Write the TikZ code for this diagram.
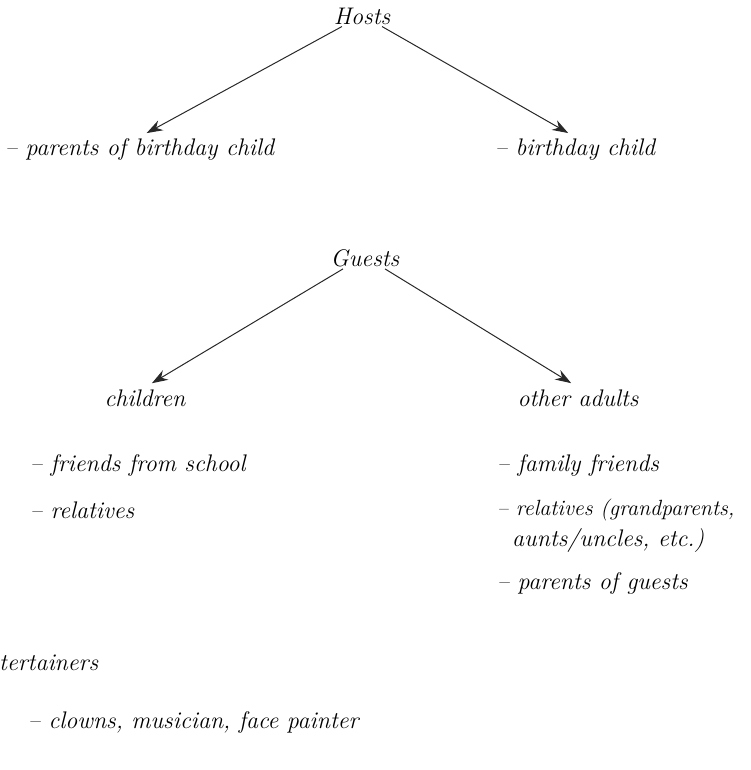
\documentclass[tikz,border=0pt]{standalone}
\usepackage{tikz}
\usetikzlibrary{arrows.meta, positioning}
\definecolor{pengray}{RGB}{40,40,40}

\begin{document}
\begin{tikzpicture}[x=1pt, y=-1pt,
  every node/.style={font=\fontsize{24}{28}\selectfont\itshape, inner sep=2pt},
  item/.style={anchor=west},
  link/.style={draw=pengray, line width=1pt,
               -{Stealth[length=16pt, width=11pt]}, shorten >=8pt}]
  \useasboundingbox (0,0) rectangle (751,770);

  % Top: Hosts
  \node (hosts) at (362,16) {Hosts};
  \node[item] (parents) at (3,150) {-- parents of birthday child};
  \node[item] (bchild) at (493,150) {-- birthday child};
  \draw[link] ([xshift=-20pt]hosts.south) -- (parents.north);
  \draw[link] ([xshift=20pt]hosts.south) -- (bchild.north);

  % Middle: Guests
  \node (guests) at (365,258) {Guests};
  \node (children) at (145,398) {children};
  \node (adults) at (578,398) {other adults};
  \draw[link] ([xshift=-22pt]guests.south) -- (children.north);
  \draw[link] ([xshift=20pt]guests.south) -- (adults.north);

  % Children items
  \node[item] (school) at (28,465) {-- friends from school};
  \node[item] (crel) at (28,510) {-- relatives};

  % Adult items
  \node[item] (family) at (495,465) {-- family friends};
  \node[item, font=\fontsize{22}{26}\selectfont\itshape, inner sep=0pt]
    (arel) at (497,510) {-- relatives (grandparents,};
  \node[item] (aunts) at (510,541) {aunts/uncles, etc.)};
  \node[item] (pguests) at (495,583) {-- parents of guests};

  % Bottom: Entertainers
  \node[item] (ent) at (-3,663) {tertainers};
  \node[item] (clowns) at (26,722) {-- clowns, musician, face painter};
\end{tikzpicture}
\end{document}
